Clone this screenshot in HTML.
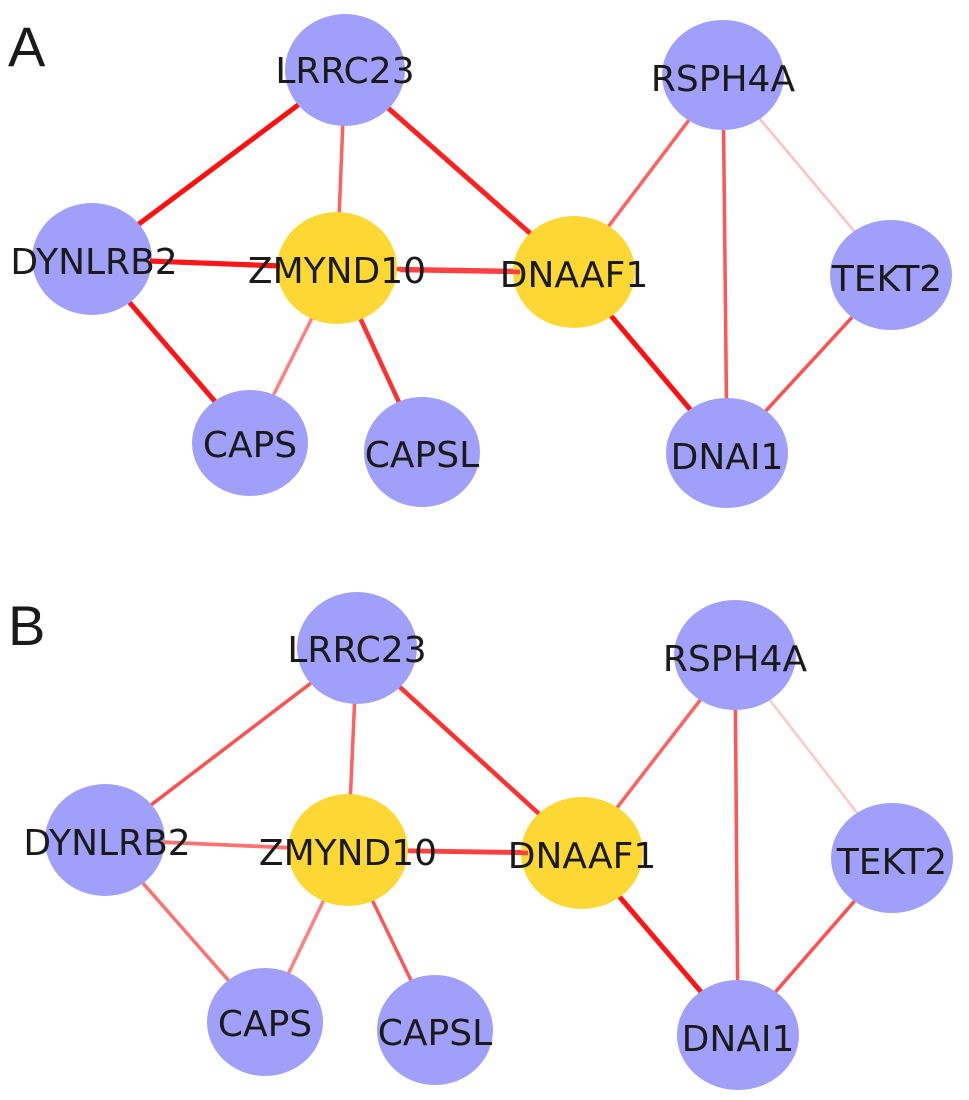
<!DOCTYPE html>
<html><head><meta charset="utf-8"><style>
html,body{margin:0;padding:0;background:#fff}
svg{display:block}
text{font-family:"DejaVu Sans","Liberation Sans",sans-serif;fill:#1a1a1a}
</style></head><body>
<svg width="969" height="1100" viewBox="0 0 969 1100" xmlns="http://www.w3.org/2000/svg">
<text x="8" y="66" font-size="56" style="font-family:'Liberation Sans',sans-serif">A</text>
<text x="8" y="645" font-size="56" style="font-family:'Liberation Sans',sans-serif">B</text>
<g stroke-linecap="butt">
<line x1="345" y1="70" x2="92" y2="259" stroke="#ff1010" stroke-width="5"/>
<line x1="345" y1="70" x2="337" y2="268" stroke="#ff6060" stroke-width="3.5"/>
<line x1="345" y1="70" x2="574" y2="272" stroke="#ff2020" stroke-width="5"/>
<line x1="92" y1="259" x2="337" y2="268" stroke="#ff1515" stroke-width="5"/>
<line x1="337" y1="268" x2="574" y2="272" stroke="#ff4040" stroke-width="4.5"/>
<line x1="92" y1="259" x2="250" y2="442" stroke="#ff1515" stroke-width="5"/>
<line x1="337" y1="268" x2="250" y2="442" stroke="#ff8080" stroke-width="3.5"/>
<line x1="337" y1="268" x2="422" y2="452" stroke="#ff3030" stroke-width="4.5"/>
<line x1="723" y1="75" x2="574" y2="272" stroke="#ff6060" stroke-width="3.5"/>
<line x1="723" y1="75" x2="727" y2="453" stroke="#ff5555" stroke-width="3.5"/>
<line x1="723" y1="75" x2="891" y2="275" stroke="#ffc0c0" stroke-width="2.5"/>
<line x1="574" y1="272" x2="727" y2="453" stroke="#ff1010" stroke-width="5"/>
<line x1="891" y1="275" x2="727" y2="453" stroke="#ff5050" stroke-width="3.5"/>
</g>
<g fill="#a0a0fa">
<ellipse cx="345" cy="70" rx="60" ry="56"/>
<ellipse cx="723" cy="75" rx="61" ry="55"/>
<ellipse cx="92" cy="259" rx="60" ry="56"/>
<ellipse cx="891" cy="275" rx="61" ry="55"/>
<ellipse cx="250" cy="443" rx="58" ry="53"/>
<ellipse cx="422" cy="452" rx="58" ry="55"/>
<ellipse cx="727" cy="453" rx="61" ry="55"/>
</g>
<g fill="#fdd835">
<ellipse cx="337" cy="268" rx="60" ry="56"/>
<ellipse cx="574" cy="272" rx="61" ry="56"/>
</g>
<line x1="150" y1="261" x2="280" y2="266" stroke="#ff1515" stroke-width="5"/>
<line x1="400" y1="270" x2="520" y2="272" stroke="#ff4040" stroke-width="4.5"/>
<g font-size="36" text-anchor="middle">
<text x="345" y="83">LRRC23</text>
<text x="723" y="91">RSPH4A</text>
<text x="94" y="274">DYNLRB2</text>
<text x="337" y="283">ZMYND10</text>
<text x="574" y="287">DNAAF1</text>
<text x="887" y="291">TEKT2</text>
<text x="250" y="457">CAPS</text>
<text x="422" y="467">CAPSL</text>
<text x="727" y="469">DNAI1</text>
</g>
<g stroke-linecap="butt">
<line x1="357" y1="648" x2="105" y2="840" stroke="#ff5050" stroke-width="3.5"/>
<line x1="357" y1="648" x2="348" y2="850" stroke="#ff6060" stroke-width="3.5"/>
<line x1="357" y1="648" x2="582" y2="853" stroke="#ff3030" stroke-width="4.5"/>
<line x1="105" y1="840" x2="348" y2="850" stroke="#ff7070" stroke-width="3.5"/>
<line x1="348" y1="850" x2="582" y2="853" stroke="#ff4040" stroke-width="4.5"/>
<line x1="105" y1="840" x2="265" y2="1022" stroke="#ff7070" stroke-width="3.5"/>
<line x1="348" y1="850" x2="265" y2="1022" stroke="#ff8080" stroke-width="3.5"/>
<line x1="348" y1="850" x2="435" y2="1030" stroke="#ff5555" stroke-width="3.5"/>
<line x1="735" y1="655" x2="582" y2="853" stroke="#ff6060" stroke-width="3.5"/>
<line x1="735" y1="655" x2="738" y2="1035" stroke="#ff5555" stroke-width="3.5"/>
<line x1="735" y1="655" x2="892" y2="858" stroke="#ffc8c8" stroke-width="2.5"/>
<line x1="582" y1="853" x2="738" y2="1035" stroke="#ff1515" stroke-width="5"/>
<line x1="892" y1="858" x2="738" y2="1035" stroke="#ff5050" stroke-width="3.5"/>
</g>
<g fill="#a0a0fa">
<ellipse cx="357" cy="648" rx="60" ry="56"/>
<ellipse cx="735" cy="655" rx="61" ry="55"/>
<ellipse cx="105" cy="840" rx="60" ry="56"/>
<ellipse cx="892" cy="858" rx="61" ry="55"/>
<ellipse cx="265" cy="1022" rx="58" ry="54"/>
<ellipse cx="435" cy="1030" rx="58" ry="55"/>
<ellipse cx="738" cy="1035" rx="61" ry="55"/>
</g>
<g fill="#fdd835">
<ellipse cx="348" cy="850" rx="60" ry="56"/>
<ellipse cx="582" cy="853" rx="61" ry="56"/>
</g>
<line x1="163" y1="842" x2="290" y2="848" stroke="#ff7070" stroke-width="3.5"/>
<line x1="410" y1="851" x2="528" y2="853" stroke="#ff4040" stroke-width="4.5"/>
<g font-size="36" text-anchor="middle">
<text x="357" y="662">LRRC23</text>
<text x="735" y="671">RSPH4A</text>
<text x="107" y="855">DYNLRB2</text>
<text x="348" y="865">ZMYND10</text>
<text x="582" y="868">DNAAF1</text>
<text x="892" y="874">TEKT2</text>
<text x="265" y="1036">CAPS</text>
<text x="435" y="1045">CAPSL</text>
<text x="738" y="1051">DNAI1</text>
</g>
</svg>
</body></html>
